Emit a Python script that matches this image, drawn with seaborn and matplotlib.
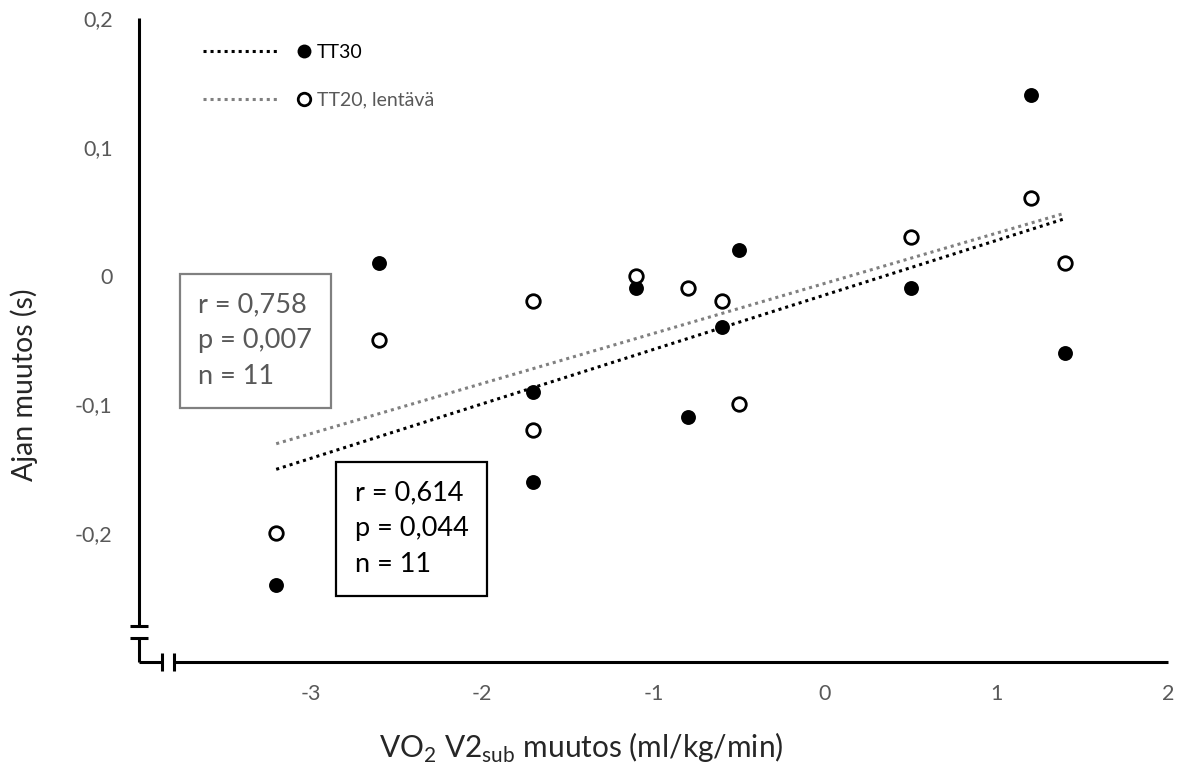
import matplotlib.pyplot as plt
import pandas as pd
import seaborn as sns
from matplotlib.legend_handler import HandlerBase
from matplotlib.lines import Line2D

# Data
VO2_CHANGE = [-3.2, -2.6, -1.7, -1.7, -1.1, -0.8, -0.6, -0.5, 0.5, 1.2, 1.4]
TT30_CHANGE = [-0.24, 0.01, -0.09, -0.16, -0.01, -0.11, -0.04, 0.02, -0.01, 0.14, -0.06]
TT20_CHANGE = [-0.20, -0.05, -0.02, -0.12, 0.00, -0.01, -0.02, -0.10, 0.03, 0.06, 0.01]

X_TICKS = [-3, -2, -1, 0, 1, 2]
X_TICKLABELS = ["-3", "-2", "-1", "0", "1", "2"]
Y_TICKS = [-0.2, -0.1, 0.0, 0.1, 0.2]
Y_TICKLABELS = ["-0,2", "-0,1", "0", "0,1", "0,2"]

STATS_TT20 = "r = 0,758\np = 0,007\nn = 11"
STATS_TT30 = "r = 0,614\np = 0,044\nn = 11"

GREY = "#808080"
TEXT_GREY = "#595959"
DOTS = (0, (1.0, 1.3))


class LineThenMarker(HandlerBase):
    """Excel-style legend key: dotted line followed by the marker."""

    def create_artists(self, legend, orig_handle, xdescent, ydescent,
                       width, height, fontsize, trans):
        line_h, mark_h = orig_handle
        y = height / 2 - ydescent
        x0 = -xdescent
        ln = Line2D([x0, x0 + width * 0.69], [y, y], color=line_h.get_color(),
                    linestyle=DOTS, linewidth=line_h.get_linewidth())
        mk = Line2D([x0 + width * 0.935], [y], linestyle="none", marker="o",
                    markersize=mark_h.get_markersize(),
                    markerfacecolor=mark_h.get_markerfacecolor(),
                    markeredgecolor=mark_h.get_markeredgecolor(),
                    markeredgewidth=mark_h.get_markeredgewidth())
        ln.set_transform(trans)
        mk.set_transform(trans)
        return [ln, mk]


def build_frame() -> pd.DataFrame:
    tt30 = pd.DataFrame({"x": VO2_CHANGE, "y": TT30_CHANGE, "test": "TT30"})
    tt20 = pd.DataFrame({"x": VO2_CHANGE, "y": TT20_CHANGE, "test": "TT20"})
    return pd.concat([tt30, tt20], ignore_index=True)


def draw_broken_axes(ax):
    kw = dict(color="black", lw=2.2, clip_on=False, solid_capstyle="butt", zorder=5)
    # y axis with break marks
    ax.plot([-4, -4], [0.2, -0.272], **kw)
    ax.plot([-4.05, -3.95], [-0.272, -0.272], **kw)
    ax.plot([-4.05, -3.95], [-0.281, -0.281], **kw)
    ax.plot([-4, -4], [-0.281, -0.3], **kw)
    # x axis with break marks
    ax.plot([-4, -3.866], [-0.3, -0.3], **kw)
    ax.plot([-3.866, -3.866], [-0.3066, -0.2934], **kw)
    ax.plot([-3.796, -3.796], [-0.3066, -0.2934], **kw)
    ax.plot([-3.796, 2.0], [-0.3, -0.3], **kw)


def plot():
    sns.set_style("white")
    plt.rcParams["font.family"] = ["Lato", "DejaVu Sans"]

    df = build_frame()
    tt30 = df[df["test"] == "TT30"]
    tt20 = df[df["test"] == "TT20"]

    fig = plt.figure(figsize=(11.86, 7.7), dpi=100)
    ax = fig.add_axes([139 / 1186, 1 - 662 / 770, 1029 / 1186, 644 / 770])

    # trend lines
    sns.regplot(data=tt20, x="x", y="y", ax=ax, scatter=False, ci=None,
                line_kws=dict(color=GREY, lw=2.2, linestyle=DOTS))
    sns.regplot(data=tt30, x="x", y="y", ax=ax, scatter=False, ci=None,
                line_kws=dict(color="black", lw=2.2, linestyle=DOTS))

    # points
    sns.scatterplot(data=tt30, x="x", y="y", ax=ax, s=115, color="black",
                    edgecolor="black", linewidth=0, zorder=4)
    sns.scatterplot(data=tt20, x="x", y="y", ax=ax, s=95, facecolor="white",
                    edgecolor="black", linewidth=2, zorder=4)

    ax.set_xlim(-4, 2)
    ax.set_ylim(-0.3, 0.2)
    ax.set_xticks(X_TICKS, X_TICKLABELS)
    ax.set_yticks(Y_TICKS, Y_TICKLABELS)
    ax.tick_params(axis="both", length=0, labelsize=15.5, labelcolor=TEXT_GREY)
    ax.tick_params(axis="y", pad=19)
    ax.tick_params(axis="x", pad=16)
    sns.despine(ax=ax, left=True, bottom=True)
    ax.grid(False)

    draw_broken_axes(ax)

    ax.set_xlabel(r"VO$_\mathregular{2}$ V2$_\mathregular{sub}$ muutos (ml/kg/min)",
                  fontsize=21.5, color="#262626")
    ax.xaxis.set_label_coords(0.43, -0.1335)
    ax.xaxis.label.set_va("center")
    ax.set_ylabel("Ajan muutos (s)", fontsize=20.5, color="#262626")
    ax.yaxis.set_label_coords(-0.112, 0.43)
    ax.yaxis.label.set_va("center")

    # stats boxes
    ax.text(0.113, 0.4985, STATS_TT20, transform=ax.transAxes, fontsize=19.5,
            color=TEXT_GREY, ha="center", va="center", multialignment="left",
            linespacing=1.55,
            bbox=dict(boxstyle="square,pad=0.68", fc="white", ec=GREY, lw=1.6),
            zorder=6)
    ax.text(0.265, 0.207, STATS_TT30, transform=ax.transAxes, fontsize=19.5,
            color="black", ha="center", va="center", multialignment="left",
            linespacing=1.55,
            bbox=dict(boxstyle="square,pad=0.68", fc="white", ec="black", lw=1.6),
            zorder=6)

    # legend
    h30 = (Line2D([], [], color="black", lw=2.2),
           Line2D([], [], marker="o", markersize=10, markerfacecolor="black",
                  markeredgecolor="black", markeredgewidth=0))
    h20 = (Line2D([], [], color=GREY, lw=2.2),
           Line2D([], [], marker="o", markersize=9, markerfacecolor="white",
                  markeredgecolor="black", markeredgewidth=2))
    leg = ax.legend([h30, h20], ["TT30", "TT20, lentävä"],
                    handler_map={h30: LineThenMarker(), h20: LineThenMarker()},
                    loc="upper left", bbox_to_anchor=(0.062, 0.96), frameon=False,
                    fontsize=14, handlelength=5.57, handletextpad=0.3,
                    labelspacing=1.58, borderpad=0, borderaxespad=0)
    leg.get_texts()[0].set_color("black")
    leg.get_texts()[1].set_color(TEXT_GREY)

    fig.savefig("out.png", dpi=100)


if __name__ == "__main__":
    plot()
